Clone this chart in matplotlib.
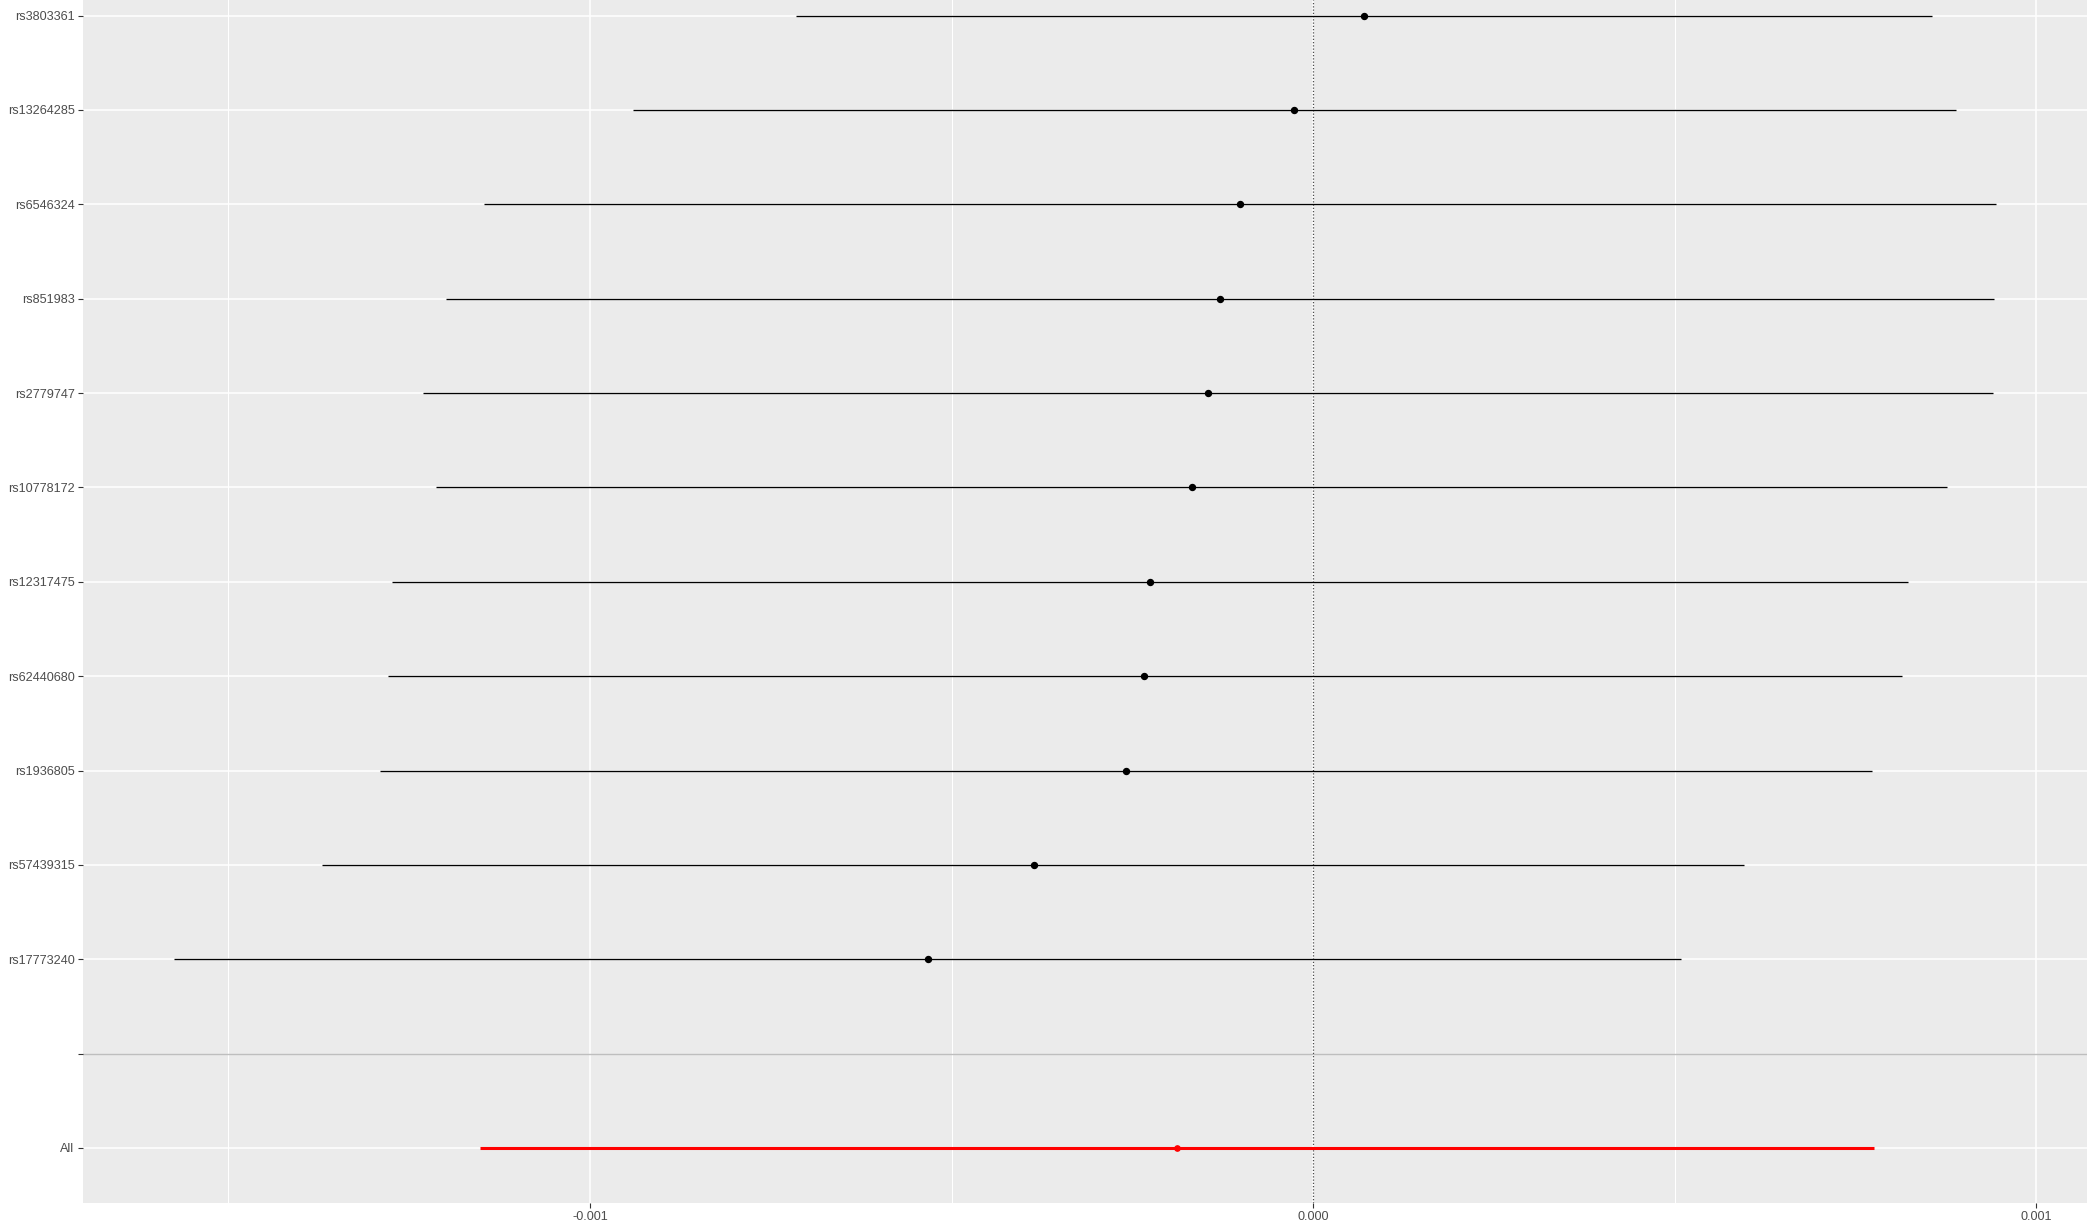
import matplotlib
matplotlib.use("Agg")
import matplotlib.pyplot as plt
import numpy as np

plt.rcParams['font.family'] = ['Liberation Sans', 'DejaVu Sans']

# ---- data (top to bottom as displayed) ----
snps = ["rs3803361", "rs13264285", "rs6546324", "rs851983", "rs2779747",
        "rs10778172", "rs12317475", "rs62440680", "rs1936805", "rs57439315",
        "rs17773240"]
beta = [0.0000705, -0.0000263, -0.0001018, -0.000129, -0.0001452,
        -0.0001677, -0.0002253, -0.0002336, -0.0002594, -0.0003862,
        -0.000532]
lower = [-0.000715, -0.000940, -0.001147, -0.001199, -0.001231,
         -0.001213, -0.001274, -0.001279, -0.001290, -0.001371,
         -0.001575]
upper = [0.000856, 0.000889, 0.000944, 0.000941, 0.000940,
         0.000877, 0.000823, 0.000814, 0.000772, 0.000596,
         0.000508]
all_label = "All"
all_beta = -0.0001885
all_lower = -0.001152
all_upper = 0.000775

x_major = [-0.001, 0.0, 0.001]
x_major_labels = ["-0.001", "0.000", "0.001"]
x_minor = [-0.0015, -0.0005, 0.0005]

# ---- layout ----
W, H = 2090, 1232
fig = plt.figure(figsize=(W / 100, H / 100), dpi=100)
left_px, right_px, bottom_px, top_px = 83, 2087, 1203, 0
ax = fig.add_axes([left_px / W, 1 - bottom_px / H,
                   (right_px - left_px) / W, (bottom_px - top_px) / H])

n = len(snps)
y_snp = np.arange(n + 1, 1, -1)  # 12 .. 2
y_blank = 1
y_all = 0

labels_pos = [y_all, y_blank] + list(y_snp[::-1])
labels_txt = [all_label, ""] + snps[::-1]

ax.set_facecolor("#EBEBEB")
for s in ax.spines.values():
    s.set_visible(False)

# x limits with ggplot style 5% expansion
all_lo = min(min(lower), all_lower)
all_hi = max(max(upper), all_upper)
rng = all_hi - all_lo
ax.set_xlim(all_lo - 0.05 * rng, all_hi + 0.05 * rng)
row_px = (1148 - 15.5) / 12
ax.set_ylim(-(1203 - 1148) / row_px, 12 + 15.5 / row_px)

# grid
for xv in x_minor:
    ax.axvline(xv, color="white", lw=0.75, zorder=0.5)
for xv in x_major:
    ax.axvline(xv, color="white", lw=1.1, zorder=0.6)
for yv in labels_pos:
    if yv == y_blank:
        continue
    ax.axhline(yv, color="white", lw=1.1, zorder=0.6)
ax.axhline(y_blank, color="#BEBEBE", lw=1.0, zorder=0.7)

# zero reference line
ax.axvline(0, color="#4D4D4D", lw=0.9, linestyle=(0, (1, 1.6)), zorder=1)

# SNP estimates
ax.hlines(y_snp, lower, upper, color="black", lw=0.95, zorder=2)
ax.plot(beta, y_snp, "o", color="black", ms=4.3, zorder=3)

# overall
ax.hlines([y_all], [all_lower], [all_upper], color="#FF0000", lw=2.2, zorder=2)
ax.plot([all_beta], [y_all], "o", color="#FF0000", ms=3.8, zorder=3)

ax.set_xticks(x_major)
ax.set_xticks(x_minor, minor=True)
ax.tick_params(axis="x", which="minor", length=0)
ax.set_yticks(labels_pos)
ax.tick_params(axis="both", which="major", length=3.6, width=0.8,
               color="#333333", labelcolor="#4D4D4D", labelsize=9.1, pad=2.5)
ax.set_xticklabels(x_major_labels, family=['Liberation Sans', 'DejaVu Sans'])
ax.set_yticklabels(labels_txt, family=['Liberation Sans', 'DejaVu Sans'])

fig.savefig("out.png", dpi=100)
